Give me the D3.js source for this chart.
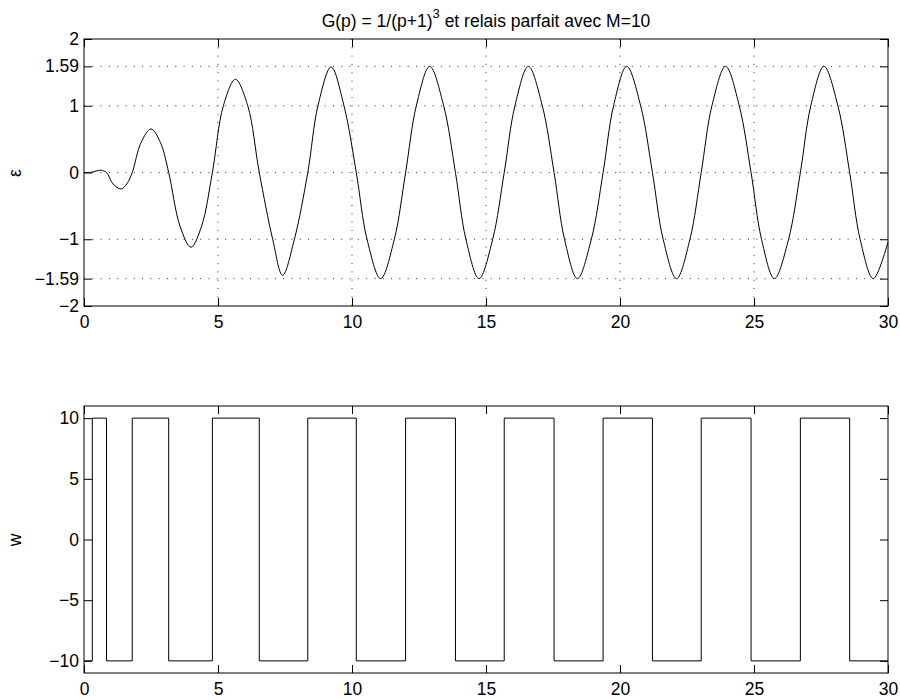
<!doctype html>
<html>
<head>
<meta charset="utf-8">
<title>Relais parfait</title>
<script src="https://cdn.jsdelivr.net/npm/d3@7"></script>
<style>
  body { margin: 0; background: #fff; }
  svg { display: block; font-family: "Liberation Sans", Arial, Helvetica, sans-serif; }
</style>
</head>
<body>
<svg id="chart"></svg>
<script>

// tick values and labels
var xTicks = [0, 5, 10, 15, 20, 25, 30];
var epsTicks = [-2, -1.59, -1, 0, 1, 1.59, 2];
var epsTickLabels = ["\u22122", "\u22121.59", "\u22121", "0", "1", "1.59", "2"];
var wTicks = [-10, -5, 0, 5, 10];
var wTickLabels = ["\u221210", "\u22125", "0", "5", "10"];

// epsilon(t) (extrema, zero crossings, intermediate points)
var epsT = [0, 0.25, 0.45, 0.63, 0.84, 1.08, 1.38, 1.60, 1.80, 2.13, 2.50, 2.85, 3.16, 3.58, 3.99, 4.39, 4.79,
    5.20, 5.65, 6.11, 6.54, 7.04, 7.41, 7.85, 8.35, 8.73, 9.22, 9.70, 10.16, 10.56, 11.07, 11.58, 12.00,
    12.40, 12.90, 13.42, 13.86, 14.25, 14.74, 15.25, 15.68, 16.08, 16.58, 17.10, 17.54, 17.93, 18.41, 18.93, 19.37,
    19.76, 20.25, 20.77, 21.21, 21.61, 22.11, 22.61, 23.03, 23.43, 23.94, 24.45, 24.89, 25.28, 25.76, 26.29, 26.73,
    27.12, 27.61, 28.13, 28.57, 28.96, 29.45, 30.00];
var epsV = [0, 0.002, 0.022, 0.035, 0, -0.17, -0.247, -0.17, 0, 0.45, 0.652, 0.45, 0, -0.8, -1.12, -0.8, 0,
    1.0, 1.396, 1.0, 0, -1.0, -1.54, -1.0, 0, 1.0, 1.58, 1.0, 0, -1.0, -1.59, -1.0, 0,
    1.0, 1.59, 1.0, 0, -1.0, -1.59, -1.0, 0, 1.0, 1.59, 1.0, 0, -1.0, -1.59, -1.0, 0,
    1.0, 1.59, 1.0, 0, -1.0, -1.59, -1.0, 0, 1.0, 1.59, 1.0, 0, -1.0, -1.59, -1.0, 0,
    1.0, 1.59, 1.0, 0, -1.0, -1.59, -1.04];

// relay output w(t): switching instants and new level
var wT = [0, 0.31, 0.84, 1.80, 3.16, 4.79, 6.54, 8.35, 10.16, 12.00, 13.86, 15.68, 17.54, 19.37, 21.21, 23.03, 24.89, 26.73, 28.57, 30];
var wV = [-10, 10, -10, 10, -10, 10, -10, 10, -10, 10, -10, 10, -10, 10, -10, 10, -10, 10, -10, -10];

var width = 900, height = 700;
var left = 84, right = 888;
var fontSize = 17.5;

var svg = d3.select('#chart')
    .attr('width', width)
    .attr('height', height);

var x = d3.scaleLinear().domain([0, 30]).range([left, right]);

function panel(top, bottom, yDomain, yTicks, yLabels, grid, label, labelY) {
    var y = d3.scaleLinear().domain(yDomain).range([bottom, top]);
    var g = svg.append('g');

    if (grid) {
        g.selectAll('.gx').data(xTicks.slice(1, -1)).enter().append('line')
            .attr('x1', function (d) { return x(d); })
            .attr('x2', function (d) { return x(d); })
            .attr('y1', top).attr('y2', bottom)
            .attr('stroke', '#333').attr('stroke-width', 1)
            .attr('stroke-dasharray', '1,7.3');
        g.selectAll('.gy').data(yTicks.slice(1, -1)).enter().append('line')
            .attr('x1', left).attr('x2', right)
            .attr('y1', function (d) { return y(d); })
            .attr('y2', function (d) { return y(d); })
            .attr('stroke', '#333').attr('stroke-width', 1)
            .attr('stroke-dasharray', '1,7.3');
    }

    // inward ticks on the four sides
    var axB = g.append('g').attr('transform', 'translate(0,' + bottom + ')')
        .call(d3.axisBottom(x).tickValues(xTicks).tickSizeInner(-8).tickSizeOuter(0).tickPadding(10));
    var axT = g.append('g').attr('transform', 'translate(0,' + top + ')')
        .call(d3.axisTop(x).tickValues(xTicks).tickSizeInner(-8).tickSizeOuter(0).tickFormat(''));
    var axL = g.append('g').attr('transform', 'translate(' + left + ',0)')
        .call(d3.axisLeft(y).tickValues(yTicks).tickSizeInner(-8).tickSizeOuter(0).tickPadding(5)
            .tickFormat(function (d, i) { return yLabels[i]; }));
    var axR = g.append('g').attr('transform', 'translate(' + right + ',0)')
        .call(d3.axisRight(y).tickValues(yTicks).tickSizeInner(-8).tickSizeOuter(0).tickFormat(''));

    [axB, axT, axL, axR].forEach(function (a) {
        a.select('.domain').remove();
        a.attr('font-family', null).attr('font-size', fontSize);
        a.selectAll('.tick line').attr('stroke', '#000');
        a.selectAll('text').attr('fill', '#000');
    });

    g.append('rect')
        .attr('x', left).attr('y', top)
        .attr('width', right - left).attr('height', bottom - top)
        .attr('fill', 'none').attr('stroke', '#000').attr('stroke-width', 1);

    g.append('text')
        .attr('transform', 'translate(21,' + labelY + ') rotate(-90)')
        .attr('text-anchor', 'middle')
        .attr('font-size', fontSize)
        .text(label);

    return y;
}

var yEps = panel(39, 306, [-2, 2], epsTicks, epsTickLabels, true, '\u03b5', 173);
var yW = panel(406, 673, [-11, 11], wTicks, wTickLabels, false, 'w', 540);

var epsLine = d3.line()
    .x(function (d, i) { return x(epsT[i]); })
    .y(function (d) { return yEps(d); })
    .curve(d3.curveCatmullRom.alpha(0.5));

svg.append('path')
    .attr('d', epsLine(epsV))
    .attr('fill', 'none').attr('stroke', '#000').attr('stroke-width', 1);

var wLine = d3.line()
    .x(function (d, i) { return x(wT[i]); })
    .y(function (d) { return yW(d); })
    .curve(d3.curveStepAfter);

svg.append('path')
    .attr('d', wLine(wV))
    .attr('fill', 'none').attr('stroke', '#000').attr('stroke-width', 1);

// title
var title = svg.append('text')
    .attr('x', (left + right) / 2)
    .attr('y', 27)
    .attr('text-anchor', 'middle')
    .attr('font-size', fontSize);
title.append('tspan').text('G(p) = 1/(p+1)');
title.append('tspan').attr('font-size', 13).attr('dy', -9).text('3');
title.append('tspan').attr('dy', 9).text(' et relais parfait avec M=10');

</script>
</body>
</html>
